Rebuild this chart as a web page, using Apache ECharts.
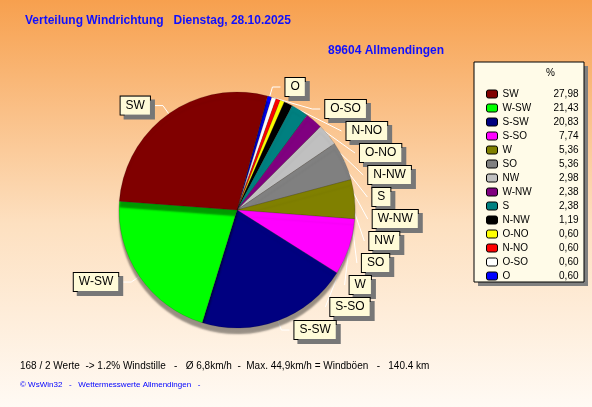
<!DOCTYPE html><html><head><meta charset="utf-8">
<script src="https://cdn.jsdelivr.net/npm/echarts@6/dist/echarts.min.js"></script>
<style>html,body{margin:0;padding:0}#c{width:592px;height:407px;background:linear-gradient(#f7a04e,#fde0c0 55%,#fffaf4)}</style>
</head><body><div id="c"></div><script>
const names=["SW","W-SW","S-SW","S-SO","W","SO","NW","W-NW","S","N-NW","O-NO","N-NO","O-SO","O"];
const values=[27.98,21.43,20.83,7.74,5.36,5.36,2.98,2.38,2.38,1.19,0.60,0.60,0.60,0.60];
const colors=["#800000","#00ff00","#000080","#ff00ff","#808000","#808080","#c0c0c0","#800080","#008080","#000000","#ffff00","#ff0000","#ffffff","#0000ff"];
const fmt=v=>v.toFixed(2).replace('.',',');
const data=names.map((n,i)=>({name:n,value:values[i],itemStyle:{color:colors[i]}})).reverse();
const ch=echarts.init(document.getElementById('c'));
ch.setOption({
 animation:false,
 textStyle:{fontFamily:'Liberation Sans, Arial'},
 title:[{text:'Verteilung Windrichtung   Dienstag, 28.10.2025',left:20,top:10,textStyle:{color:'#1010ff',fontSize:12,fontWeight:'bold'}},
  {text:'89604 Allmendingen',left:323,top:40,textStyle:{color:'#1010ff',fontSize:12,fontWeight:'bold'}}],
 graphic:[
  {type:'rect',shape:{x:478,y:66,width:110,height:220},style:{fill:'#808080'}},
  {type:'rect',shape:{x:474,y:62,width:110,height:220},style:{fill:'#fffbe8',stroke:'#000',lineWidth:1}},
  {type:'text',left:546,top:68,style:{text:'%',fontSize:10,fill:'#000'}},
  {type:'text',left:20,top:361,style:{text:'168 / 2 Werte  -> 1.2% Windstille   -   Ø 6,8km/h  -  Max. 44,9km/h = Windböen   -   140.4 km',fontSize:10,fill:'#000'}},
  {type:'text',left:20,top:381,style:{text:'© WsWin32   -   Wettermesswerte Allmendingen   -',fontSize:8,fill:'#0000ff'}}
 ],
 legend:{orient:'vertical',left:481,top:84,itemWidth:11,itemHeight:8,itemGap:4,
  data:names,itemStyle:{borderColor:'#000',borderWidth:1},
  formatter:n=>'{a|'+n+'}{b|'+fmt(values[names.indexOf(n)])+'}',
  textStyle:{rich:{a:{width:48,fontSize:10,color:'#000'},b:{width:28,align:'right',fontSize:10,color:'#000'}}}},
 series:[{type:'pie',center:[237,210],radius:118,startAngle:75,clockwise:true,data,
  itemStyle:{borderColor:'rgba(0,0,0,0.3)',borderWidth:0.5,shadowColor:'rgba(0,0,0,0.4)',shadowOffsetY:6,shadowBlur:2},
  label:{color:'#000',fontSize:12,backgroundColor:'#fffbd8',borderColor:'#000',borderWidth:1,padding:[3,5],shadowColor:'#777',shadowOffsetX:4,shadowOffsetY:4},
  labelLine:{lineStyle:{color:'#fff'},length:10,length2:8},
  avoidLabelOverlap:true}]
});
</script></body></html>
